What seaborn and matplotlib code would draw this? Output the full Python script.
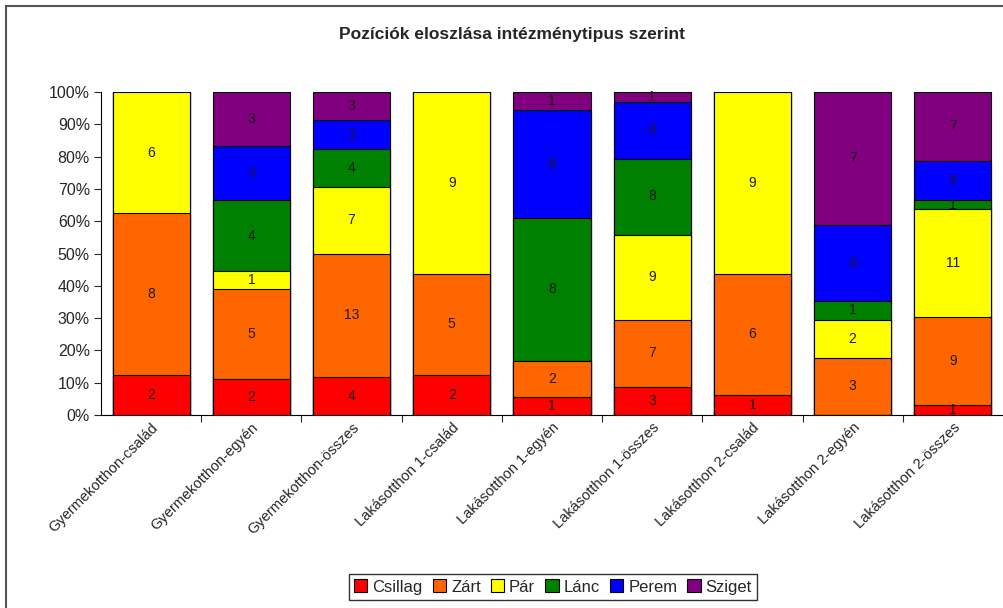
import matplotlib

matplotlib.use("Agg")
import matplotlib.pyplot as plt
import numpy as np
import pandas as pd
import seaborn as sns
from matplotlib.patches import Patch, Rectangle
from matplotlib.ticker import PercentFormatter

categories = [
    "Gyermekotthon-család",
    "Gyermekotthon-egyén",
    "Gyermekotthon-összes",
    "Lakásotthon 1-család",
    "Lakásotthon 1-egyén",
    "Lakásotthon 1-összes",
    "Lakásotthon 2-család",
    "Lakásotthon 2-egyén",
    "Lakásotthon 2-összes",
]
positions = ["Csillag", "Zárt", "Pár", "Lánc", "Perem", "Sziget"]

csillag = [2, 2, 4, 2, 1, 3, 1, 0, 1]
zart = [8, 5, 13, 5, 2, 7, 6, 3, 9]
par = [6, 1, 7, 9, 0, 9, 9, 2, 11]
lanc = [0, 4, 4, 0, 8, 8, 0, 1, 1]
perem = [0, 3, 3, 0, 6, 6, 0, 4, 4]
sziget = [0, 3, 3, 0, 1, 1, 0, 7, 7]

colors = ["#FF0000", "#FF6600", "#FFFF00", "#008000", "#0000FF", "#800080"]

counts = pd.DataFrame(
    dict(zip(positions, [csillag, zart, par, lanc, perem, sziget])), index=categories
)
share = counts.div(counts.sum(axis=1), axis=0) * 100
top = share.cumsum(axis=1)
mid = top - share / 2

sns.set_style("white")
plt.rcParams["font.family"] = ["Liberation Sans", "DejaVu Sans"]

fig = plt.figure(figsize=(10.04, 6.08), dpi=100)
ax = fig.add_axes([101 / 1004, 1 - 415 / 608, 902 / 1004, 323 / 608])

# stacked look: draw cumulative bars from the top series down
for pos, col in reversed(list(zip(positions, colors))):
    sns.barplot(
        x=categories,
        y=top[pos].values,
        color=col,
        saturation=1,
        width=0.77,
        edgecolor="black",
        linewidth=0.8,
        ax=ax,
    )

for i, cat in enumerate(categories):
    for pos in positions:
        n = counts.loc[cat, pos]
        if n > 0:
            ax.text(i, mid.loc[cat, pos], str(n), ha="center", va="center",
                    fontsize=10, color="#1a1a1a")

ax.set_ylim(0, 100)
ax.set_xlim(-0.5, len(categories) - 0.5)
ax.set_yticks(np.arange(0, 101, 10))
ax.yaxis.set_major_formatter(PercentFormatter(decimals=0))
ax.tick_params(axis="y", left=True, length=5, width=0.8, labelsize=11.5, pad=3)
ax.tick_params(axis="x", bottom=True, length=0, labelsize=10.5, pad=4)
ax.set_xticks(range(len(categories)))
ax.set_xticklabels(categories, rotation=45, ha="right", rotation_mode="anchor")
# category separators on the x axis
ax.set_xticks(np.arange(0.5, len(categories) - 0.5, 1), minor=True)
ax.tick_params(axis="x", which="minor", bottom=True, length=5, width=0.8)
for s in ["top", "right"]:
    ax.spines[s].set_visible(False)
for s in ["left", "bottom"]:
    ax.spines[s].set_color("black")
    ax.spines[s].set_linewidth(0.8)
ax.set_xlabel("")
ax.set_ylabel("")

fig.text(512 / 1004, 1 - 35 / 608, "Pozíciók eloszlása intézménytipus szerint",
         ha="center", va="center", fontsize=12.5, fontweight="bold")

handles = [Patch(facecolor=c, edgecolor="black", linewidth=0.8) for c in colors]
fig.legend(handles, positions, loc="center", bbox_to_anchor=(553 / 1004, 1 - 587 / 608),
           ncol=6, frameon=True, fancybox=False, edgecolor="black", fontsize=12,
           handlelength=0.8, handleheight=0.8, handletextpad=0.3, columnspacing=0.6,
           borderpad=0.3)

fig.patches.append(Rectangle((6 / 1004, -0.01), 1.02, 1 - 6 / 608 + 0.01,
                             transform=fig.transFigure, fill=False,
                             edgecolor="#555555", linewidth=1.5))

fig.savefig("out.png", dpi=100)
plt.close(fig)
